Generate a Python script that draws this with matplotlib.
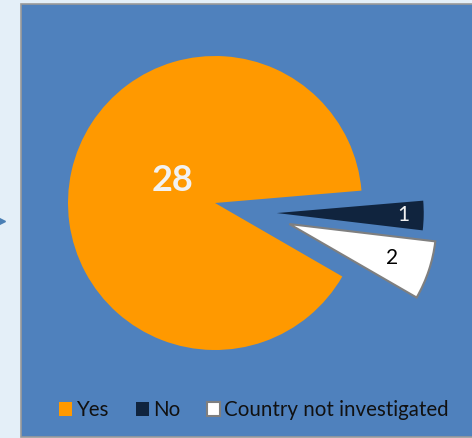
import numpy as np
import matplotlib.pyplot as plt
from matplotlib.patches import Rectangle

plt.rcParams['font.family'] = ['Lato', 'DejaVu Sans']

labels = ['Yes', 'No', 'Country not investigated']
values = [28, 1, 2]
colors = ['#FF9900', '#10243E', '#FFFFFF']
label_colors = ['#F2F2F2', '#F2F2F2', '#000000']

W, H = 472, 438
fig = plt.figure(figsize=(W / 100, H / 100), dpi=100, facecolor='#E4EFF8')
ax = fig.add_axes([0, 0, 1, 1])

# blue panel behind the chart
ax.add_patch(Rectangle((21, 1), 460, 433, facecolor='#4F81BD',
                       edgecolor='#9A9A9A', linewidth=1.2, zorder=0))
ax.plot([1], [H - 221], marker='>', markersize=6, color='#4A7FB5',
        clip_on=False)

radius = 147
center = (215, H - 203)
explode = [0, 0.42 * radius, 0.54 * radius]

wedges, _ = ax.pie(values, colors=colors, startangle=-30, counterclock=False,
                   radius=radius, center=center, explode=explode,
                   wedgeprops=dict(linewidth=0))
wedges[2].set_edgecolor('#7F7F7F')
wedges[2].set_linewidth(1.5)

# pulled-out slices sit a little lower / higher than a pure radial shift
shift = [(0, 0), (0, -9), (-1, 4)]
for w, (dx, dy) in zip(wedges, shift):
    cx, cy = w.center
    w.set_center((cx + dx, cy + dy))

# value labels inside each slice
dist = [0.34, 0.86, 0.74]
nudge = [(6, 12), (0, 0), (0, 0)]
sizes = [26, 15, 15]
weights = ['bold', 'normal', 'normal']
for w, v, d, (nx, ny), s, wt, c in zip(wedges, values, dist, nudge, sizes,
                                        weights, label_colors):
    tm = np.deg2rad((w.theta1 + w.theta2) / 2)
    cx, cy = w.center
    ax.text(cx + d * radius * np.cos(tm) + nx, cy + d * radius * np.sin(tm) + ny,
            str(v), ha='center', va='center', fontsize=s, fontweight=wt, color=c)

ax.set_xlim(0, W)
ax.set_ylim(0, H)
ax.set_aspect('auto')
ax.axis('off')

ax.legend(wedges, labels, loc='center', bbox_to_anchor=(254 / W, 1 - 410 / H),
          ncol=3, frameon=False, fontsize=14.8, handlelength=0.65,
          handleheight=0.65, handletextpad=0.2, columnspacing=1.3,
          labelcolor='#111111')

plt.savefig('out.png', dpi=100, facecolor=fig.get_facecolor())
